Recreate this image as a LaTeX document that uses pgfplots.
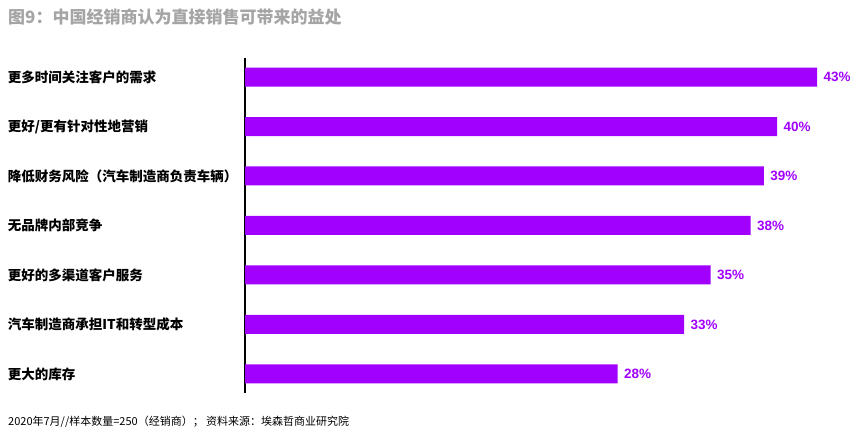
\documentclass[border=0pt]{standalone}
\usepackage{pgfplots}
\pgfplotsset{compat=1.18}
\usepackage{fontspec}
\setmainfont{Noto Sans CJK SC}
\newfontfamily\numfont{Liberation Sans}
\definecolor{accpurple}{HTML}{A100FF}
\definecolor{titlegray}{RGB}{165,165,165}

\begin{document}
\begin{tikzpicture}
\path[use as bounding box] (0,0) rectangle (861pt,442pt);
\node[anchor=west, inner sep=0, font=\fontsize{17}{20}\selectfont\bfseries, text=titlegray]
  at (8pt,425pt) {图9：中国经销商认为直接销售可带来的益处};
\node[anchor=west, inner sep=0, font=\fontsize{11}{13}\selectfont]
  at (8pt,20pt) {2020年7月//样本数量=250（经销商）； 资料来源：埃森哲商业研究院};
\begin{axis}[
    at={(245pt,49pt)}, anchor=south west,
    scale only axis,
    width=616pt, height=335pt,
    xbar,
    bar width=19pt,
    xmin=0, xmax=46.3,
    ymin=-0.384, ymax=6.384,
    axis x line=none,
    axis y line*=left,
    y axis line style={line width=1.3pt, black},
    ytick=data,
    ytick style={draw=none},
    yticklabels={更大的库存, 汽车制造商承担IT和转型成本, 更好的多渠道客户服务, 无品牌内部竞争, 降低财务风险（汽车制造商负责车辆）, 更好/更有针对性地营销, 更多时间关注客户的需求},
    yticklabel style={anchor=west, inner sep=0, xshift=-233pt, font=\fontsize{13.5}{16}\selectfont\bfseries},
    clip=false,
    nodes near coords={\pgfmathprintnumber\pgfplotspointmeta\%},
    point meta=x,
    nodes near coords style={anchor=west, xshift=3pt, text=accpurple,
      font=\numfont\fontsize{13.5}{16}\selectfont\bfseries,
      /pgf/number format/assume math mode=true},
]
\addplot[fill=accpurple, draw=none] coordinates {(28,0) (33,1) (35,2) (38,3) (39,4) (40,5) (43,6)};
\end{axis}
\end{tikzpicture}
\end{document}
